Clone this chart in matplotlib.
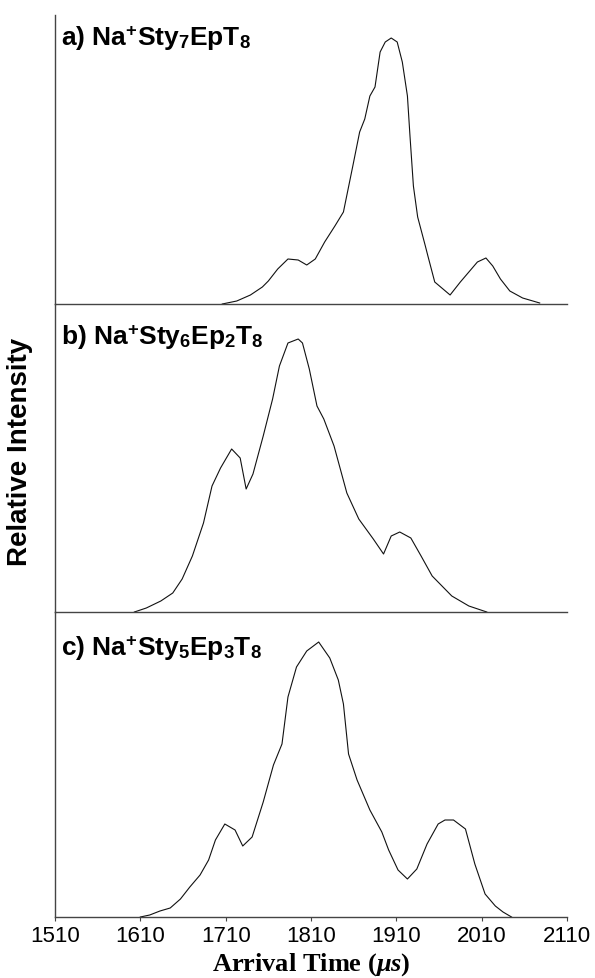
import matplotlib.pyplot as plt

plt.rcParams['font.family'] = 'Liberation Sans'
plt.rcParams['mathtext.fontset'] = 'custom'
plt.rcParams['mathtext.rm'] = 'Liberation Sans:bold'
plt.rcParams['mathtext.bf'] = 'Liberation Sans:bold'
plt.rcParams['mathtext.it'] = 'Liberation Serif:italic:bold'

# arrival time (us) and relative intensity
time_a = [1706, 1723, 1739, 1753, 1760, 1771, 1783, 1795, 1805, 1815, 1826, 1838, 1848,
          1859, 1867, 1873, 1879, 1885, 1891, 1897, 1904, 1911, 1917, 1923, 1926, 1930,
          1935, 1944, 1947, 1955, 1973, 1985, 1996, 2005, 2015, 2023, 2032, 2043, 2058, 2078]
int_a = [0, 3, 9, 17, 23, 35, 45, 44, 39, 45, 62, 78, 92,
         138, 172, 185, 208, 217, 252, 262, 266, 262, 242, 208, 168, 118,
         87, 58, 48, 22, 9, 22, 33, 42, 46, 38, 25, 13, 6, 1]

time_b = [1603, 1617, 1634, 1648, 1659, 1671, 1684, 1694, 1704, 1717, 1727, 1734, 1742,
          1754, 1765, 1773, 1783, 1795, 1800, 1808, 1817, 1825, 1837, 1852, 1866, 1883,
          1895, 1904, 1914, 1927, 1939, 1952, 1975, 1995, 2016]
int_b = [0, 4, 11, 19, 33, 56, 89, 126, 144, 163, 154, 123, 138,
         176, 213, 246, 269, 273, 269, 243, 206, 193, 166, 119, 93, 73,
         58, 76, 80, 74, 56, 36, 16, 6, 0]

time_c = [1610, 1621, 1633, 1645, 1657, 1668, 1680, 1690, 1698, 1709, 1721, 1730, 1741,
          1754, 1766, 1776, 1783, 1793, 1805, 1819, 1832, 1842, 1848, 1854, 1864, 1879,
          1893, 1901, 1912, 1923, 1934, 1946, 1959, 1967, 1977, 1991, 2002, 2014, 2026,
          2035, 2045]
int_c = [0, 2, 6, 9, 18, 30, 42, 57, 77, 93, 87, 71, 80,
         115, 152, 173, 220, 250, 266, 275, 259, 237, 213, 163, 137, 107,
         85, 67, 47, 38, 48, 73, 93, 97, 97, 88, 53, 23, 11,
         5, 0]

labels = [r'a) Na$^{+}$Sty$_{7}$EpT$_{8}$',
          r'b) Na$^{+}$Sty$_{6}$Ep$_{2}$T$_{8}$',
          r'c) Na$^{+}$Sty$_{5}$Ep$_{3}$T$_{8}$']
xticks = [1510, 1610, 1710, 1810, 1910, 2010, 2110]

W, H = 595, 979
fig = plt.figure(figsize=(W / 100, H / 100), dpi=100)

# panel edges in pixels: (top, baseline)
panels = [(16, 305), (305, 613), (613, 918)]
label_base = [45, 344, 655]
series = [(time_a, int_a), (time_b, int_b), (time_c, int_c)]
spine_col = '#444444'

for i, ((top, bot), (t, y)) in enumerate(zip(panels, series)):
    ax = fig.add_axes([55 / W, 1 - bot / H, 512 / W, (bot - top) / H])
    ax.patch.set_visible(False)  # don't hide the baseline of the panel above
    ax.plot(t, y, color='#111111', lw=0.8)
    ax.set_xlim(1510, 2110)
    ax.set_ylim(0, bot - top)
    for s in ['top', 'right']:
        ax.spines[s].set_visible(False)
    for s in ['left', 'bottom']:
        ax.spines[s].set_color(spine_col)
        ax.spines[s].set_linewidth(1.0)
    ax.set_yticks([])
    ax.set_xticks(xticks)
    if i < 2:
        ax.tick_params(axis='x', length=0, labelbottom=False)
    else:
        ax.tick_params(axis='x', direction='out', length=3, width=0.8,
                       color=spine_col, labelsize=16, pad=3)
        ax.set_xticklabels([str(v) for v in xticks])
    fig.text(61 / W, 1 - label_base[i] / H, labels[i], fontsize=19,
             fontweight='bold', va='baseline', ha='left')

fig.text(20 / W, 1 - 452 / H, 'Relative Intensity', rotation=90, fontsize=20,
         fontweight='bold', ha='center', va='center')
fig.text(311 / W, 1 - 978 / H, r'Arrival Time ($\mu s$)', fontsize=19,
         fontweight='bold', family='Liberation Serif', ha='center', va='bottom')

fig.savefig('out.png', dpi=100)
